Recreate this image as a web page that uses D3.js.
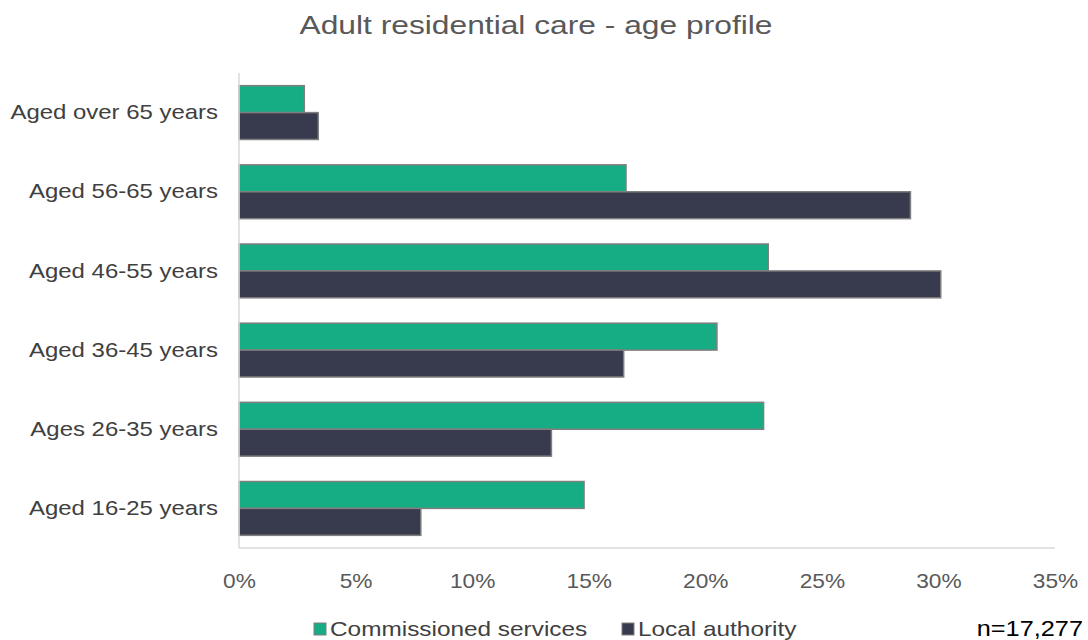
<!DOCTYPE html>
<html>
<head>
<meta charset="utf-8">
<script src="https://cdn.jsdelivr.net/npm/d3@7"></script>
<style>
  html, body { margin: 0; padding: 0; background: #fff; }
  svg { display: block; font-family: "Liberation Sans", Arial, sans-serif; }
</style>
</head>
<body>
<svg id="chart" width="1088" height="640"></svg>
<script>
// Age groups, top to bottom
const categories = [
  "Aged over 65 years",
  "Aged 56-65 years",
  "Aged 46-55 years",
  "Aged 36-45 years",
  "Ages 26-35 years",
  "Aged 16-25 years"
];
const seriesNames = ["Commissioned services", "Local authority"];
// Share of residents (%) per age group
const commissioned = [2.8, 16.6, 22.7, 20.5, 22.5, 14.8];
const localAuthority = [3.4, 28.8, 30.1, 16.5, 13.4, 7.8];
const xTicks = [0, 5, 10, 15, 20, 25, 30, 35];
const colors = ["#17ad84", "#383a4e"];

const svg = d3.select("#chart");
const margin = { top: 73, right: 33, bottom: 92, left: 239 };
const width = 1088 - margin.left - margin.right;
const height = 640 - margin.top - margin.bottom;

// Widen text glyphs horizontally by a factor (the chart's typeface is set wide)
function widen(sel, factor) {
  sel.each(function () {
    const len = this.getComputedTextLength();
    d3.select(this).attr("textLength", len * factor).attr("lengthAdjust", "spacingAndGlyphs");
  });
}

const g = svg.append("g").attr("transform", `translate(${margin.left},${margin.top})`);

const x = d3.scaleLinear().domain([0, 35]).range([0, width]);
const y0 = d3.scaleBand().domain(categories).range([0, height]).paddingInner(0.32).paddingOuter(0.16);
const y1 = d3.scaleBand().domain(seriesNames).range([0, y0.bandwidth()]);

const rows = categories.map((c, i) => ({
  cat: c,
  values: [
    { key: seriesNames[0], v: commissioned[i] },
    { key: seriesNames[1], v: localAuthority[i] }
  ]
}));

// Bars
const groups = g.selectAll("g.row").data(rows).join("g")
  .attr("class", "row")
  .attr("transform", d => `translate(0,${y0(d.cat)})`);

groups.selectAll("rect").data(d => d.values).join("rect")
  .attr("x", 0)
  .attr("y", d => y1(d.key))
  .attr("width", d => x(d.v))
  .attr("height", y1.bandwidth())
  .attr("fill", (d, i) => colors[i])
  .attr("stroke", "#7f7f7f")
  .attr("stroke-width", 1.5);

// Axis lines
g.append("line").attr("x1", 0).attr("x2", 0).attr("y1", 0).attr("y2", height)
  .attr("stroke", "#d9d9d9").attr("stroke-width", 1.5);
g.append("line").attr("x1", 0).attr("x2", width).attr("y1", height).attr("y2", height)
  .attr("stroke", "#d9d9d9").attr("stroke-width", 1.5);

// X axis tick labels
const xAxis = d3.axisBottom(x).tickValues(xTicks).tickFormat(d => d + "%").tickSize(0).tickPadding(25);
const xg = g.append("g").attr("transform", `translate(0,${height})`).call(xAxis);
xg.select(".domain").remove();
xg.selectAll("text").attr("fill", "#595959").style("font-size", "21px")
  .style("font-family", "'Liberation Sans', Arial, sans-serif");
widen(xg.selectAll("text"), 1.08);

// Y axis category labels
const yAxis = d3.axisLeft(y0).tickSize(0).tickPadding(21);
const yg = g.append("g").call(yAxis);
yg.select(".domain").remove();
yg.selectAll("text").attr("fill", "#404040").style("font-size", "21px")
  .style("font-family", "'Liberation Sans', Arial, sans-serif");
widen(yg.selectAll("text"), 1.14);

// Title
const title = svg.append("text").attr("x", 536).attr("y", 34).attr("text-anchor", "middle")
  .attr("fill", "#595959").style("font-size", "25px")
  .text("Adult residential care - age profile");
widen(title, 1.27);

// Legend
const legendX = [314, 622];
seriesNames.forEach((name, i) => {
  const lg = svg.append("g").attr("transform", `translate(${legendX[i]},623)`);
  lg.append("rect").attr("x", 0).attr("y", 0).attr("width", 12).attr("height", 12)
    .attr("fill", colors[i]).attr("stroke", "#7f7f7f").attr("stroke-width", 1);
  const t = lg.append("text").attr("x", 16).attr("y", 13).attr("fill", "#404040")
    .style("font-size", "21px").text(name);
  widen(t, 1.16);
});

// Sample size note
const note = svg.append("text").attr("x", 1083).attr("y", 636).attr("text-anchor", "end")
  .attr("fill", "#000").style("font-size", "22px").text("n=17,277");
widen(note, 1.15);
</script>
</body>
</html>
